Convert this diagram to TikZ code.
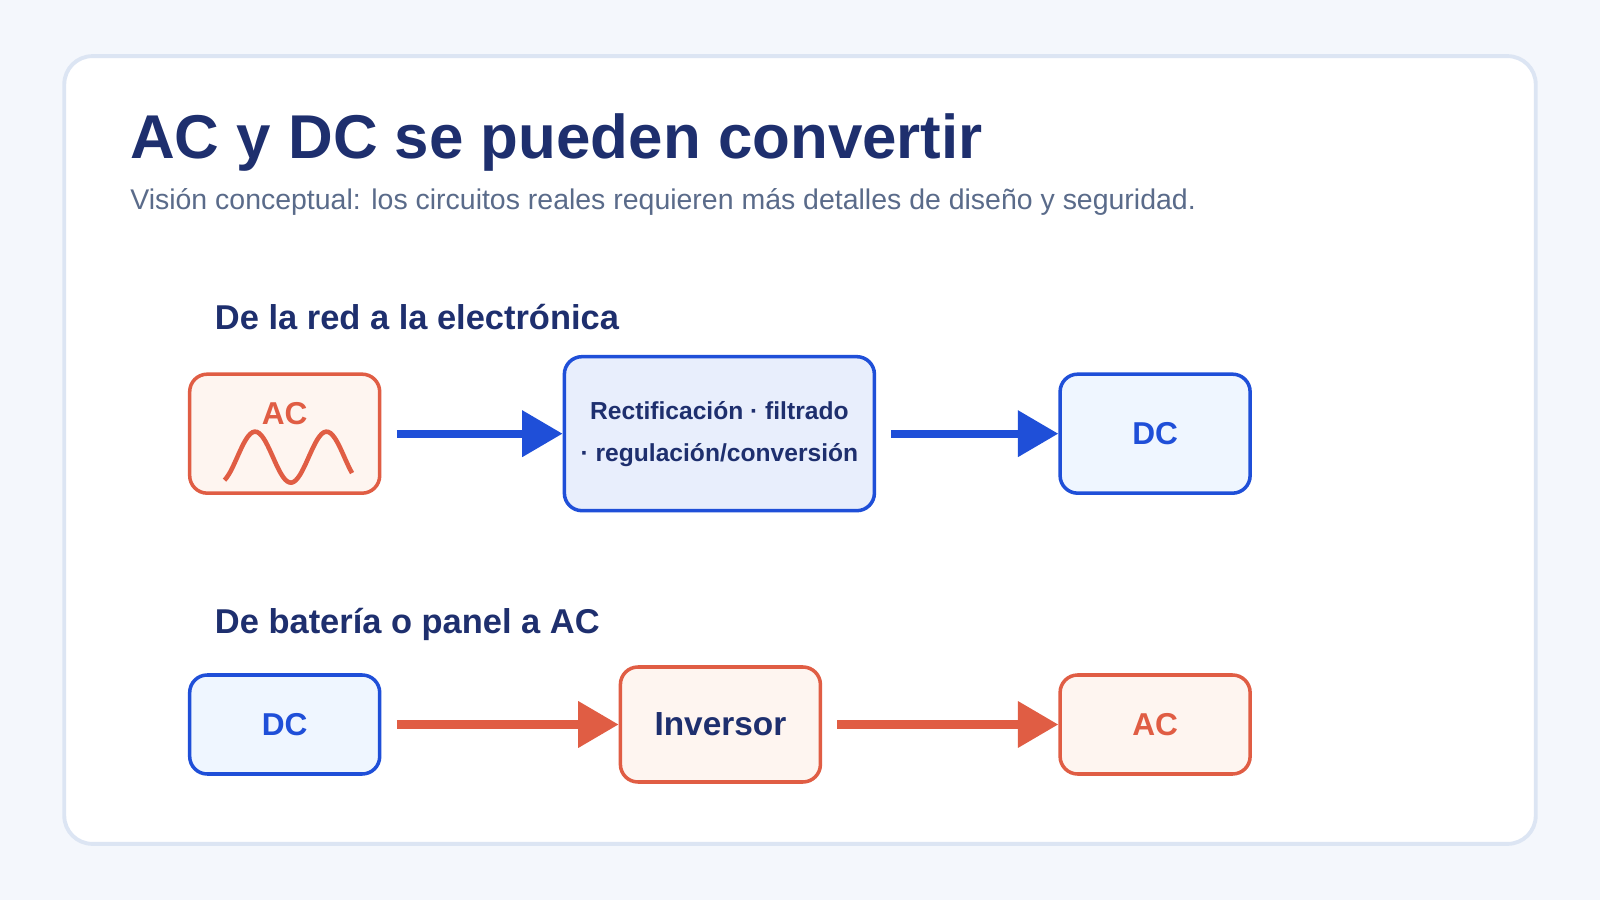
\documentclass[tikz,border=0pt]{standalone}
\usepackage{fontspec}
\setmainfont{Liberation Sans}
\usetikzlibrary{arrows.meta}
\definecolor{bgc}{HTML}{F4F7FC}
\definecolor{cardline}{HTML}{DCE5F3}
\definecolor{navy}{HTML}{1E2F6E}
\definecolor{greytxt}{HTML}{5A6B8A}
\definecolor{blu}{HTML}{1F4FD8}
\definecolor{blufill}{HTML}{EFF6FF}
\definecolor{rectfill}{HTML}{E8EEFC}
\definecolor{ora}{HTML}{E05D44}
\definecolor{orafill}{HTML}{FEF5F0}
\tikzset{
	box/.style 2 args={draw=#1,fill=#2,line width=1pt,rounded corners=5pt,font=\bfseries,align=center,inner sep=0pt},
	flow/.style={line width=2.3pt,-{Triangle[length=11.5pt,width=12.7pt]}}
}
\begin{document}
\begin{tikzpicture}[x=0.10204mm,y=-0.10204mm]
	\fill[bgc] (0,0) rectangle (1568,882);
	\useasboundingbox (0,0) rectangle (1568,882);
	\draw[cardline,fill=white,line width=1.1pt,rounded corners=8pt] (63,55) rectangle (1505,827);

	\node[anchor=base west,text=navy,font=\fontsize{17.6}{20}\selectfont\bfseries,inner sep=0pt] (title) at (127,155) {AC y DC se pueden convertir};
	\node[anchor=base west,text=greytxt,font=\fontsize{8.1}{10}\selectfont,inner sep=0pt] (sub) at (127,205) {Visión conceptual: los circuitos reales requieren más detalles de diseño y seguridad.};
	\node[anchor=base west,text=navy,font=\fontsize{9.8}{12}\selectfont\bfseries,inner sep=0pt] (h1) at (210,323) {De la red a la electrónica};
	\node[anchor=base west,text=navy,font=\fontsize{9.8}{12}\selectfont\bfseries,inner sep=0pt] (h2) at (210,621) {De batería o panel a AC};

	% fila 1
	\node[box={ora}{orafill},minimum width=19mm,minimum height=11.9mm] (ac1) at (279,425) {};
	\node[text=ora,font=\fontsize{9}{11}\selectfont\bfseries] (aclabel) at (279,405) {AC};
	\draw[ora,line width=1.3pt,domain=220:345,samples=60,smooth] plot (\x,{448-25*sin(5.142857*(\x-232.5))});
	\node[box={blu}{rectfill},minimum width=31mm,minimum height=15.4mm,text=navy,font=\fontsize{7}{12}\selectfont\bfseries] (rect) at (705,425) {Rectificación · filtrado\\· regulación/conversión};
	\node[box={blu}{blufill},minimum width=19mm,minimum height=11.9mm,text=blu,font=\fontsize{9}{11}\selectfont\bfseries] (dc1) at (1132,425) {DC};
	\draw[flow,blu] (ac1.east)++(15,0) -- (rect.west);
	\draw[flow,blu] (rect.east)++(15,0) -- (dc1.west);

	% fila 2
	\node[box={blu}{blufill},minimum width=19mm,minimum height=9.9mm,text=blu,font=\fontsize{9}{11}\selectfont\bfseries] (dc2) at (279,710) {DC};
	\node[box={ora}{orafill},minimum width=20mm,minimum height=11.5mm,text=navy,font=\fontsize{9.5}{11}\selectfont\bfseries] (inv) at (706,710) {Inversor};
	\node[box={ora}{orafill},minimum width=19mm,minimum height=9.9mm,text=ora,font=\fontsize{9}{11}\selectfont\bfseries] (ac2) at (1132,710) {AC};
	\draw[flow,ora] (dc2.east)++(15,0) -- (inv.west);
	\draw[flow,ora] (inv.east)++(15,0) -- (ac2.west);
\end{tikzpicture}
\end{document}
